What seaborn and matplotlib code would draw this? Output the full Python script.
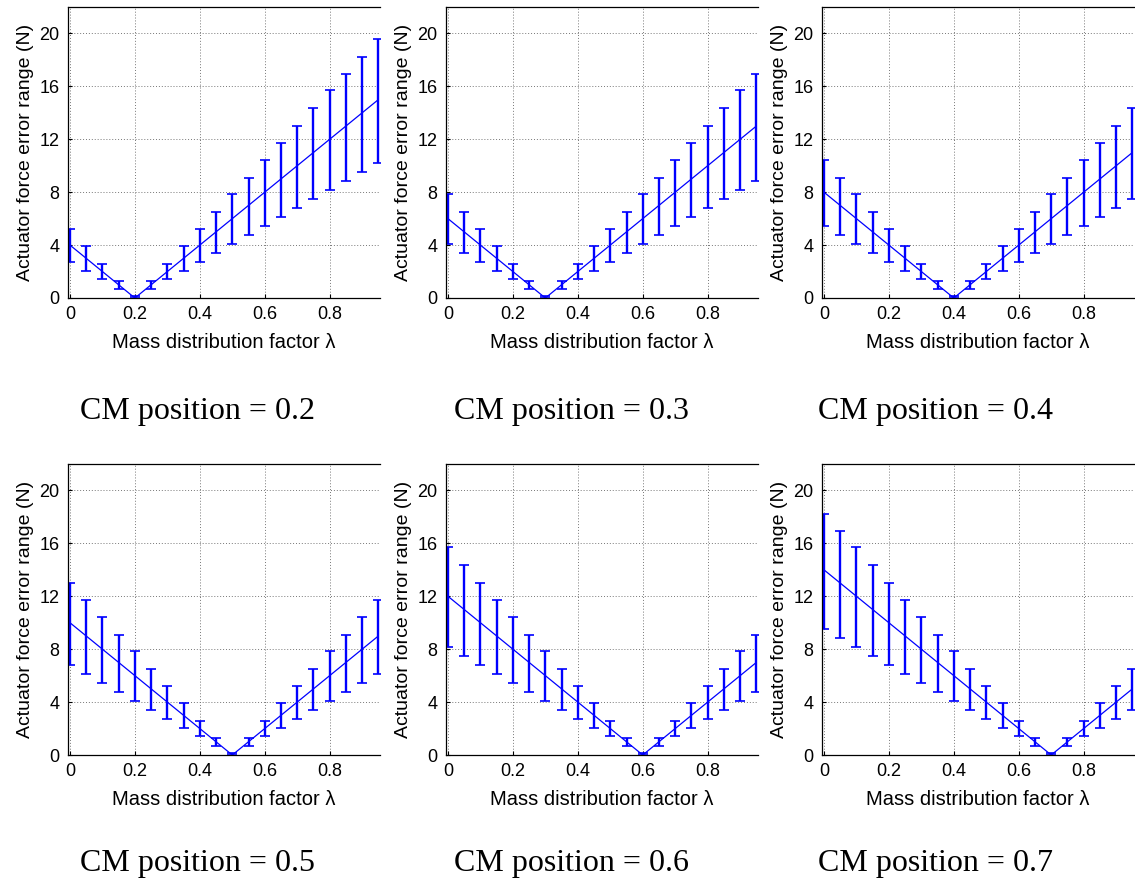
import matplotlib
matplotlib.use("Agg")
import matplotlib.pyplot as plt
import seaborn as sns
import numpy as np

# Mass distribution factor sampled in steps of 0.05
lam = [0.0, 0.05, 0.10, 0.15, 0.20, 0.25, 0.30, 0.35, 0.40, 0.45,
       0.50, 0.55, 0.60, 0.65, 0.70, 0.75, 0.80, 0.85, 0.90, 0.95]

cm_positions = [0.2, 0.3, 0.4, 0.5, 0.6, 0.7]

# Actuator force error range (N): nominal value with lower / upper bounds
force_02 = [4, 3, 2, 1, 0, 1, 2, 3, 4, 5, 6, 7, 8, 9, 10, 11, 12, 13, 14, 15]
low_02 = [2.75, 2.05, 1.4, 0.7, 0.0, 0.7, 1.4, 2.05, 2.75, 3.4, 4.1, 4.75, 5.45, 6.1, 6.8, 7.5, 8.15, 8.85, 9.5, 10.2]
high_02 = [5.25, 3.95, 2.6, 1.3, 0.15, 1.3, 2.6, 3.95, 5.25, 6.5, 7.85, 9.1, 10.45, 11.75, 13.0, 14.35, 15.7, 16.95, 18.25, 19.6]

force_03 = [6, 5, 4, 3, 2, 1, 0, 1, 2, 3, 4, 5, 6, 7, 8, 9, 10, 11, 12, 13]
low_03 = [4.1, 3.4, 2.75, 2.05, 1.4, 0.7, 0.0, 0.7, 1.4, 2.05, 2.75, 3.4, 4.1, 4.75, 5.45, 6.1, 6.8, 7.5, 8.15, 8.85]
high_03 = [7.85, 6.5, 5.25, 3.95, 2.6, 1.3, 0.15, 1.3, 2.6, 3.95, 5.25, 6.5, 7.85, 9.1, 10.45, 11.75, 13.0, 14.35, 15.7, 16.95]

force_04 = [8, 7, 6, 5, 4, 3, 2, 1, 0, 1, 2, 3, 4, 5, 6, 7, 8, 9, 10, 11]
low_04 = [5.45, 4.75, 4.1, 3.4, 2.75, 2.05, 1.4, 0.7, 0.0, 0.7, 1.4, 2.05, 2.75, 3.4, 4.1, 4.75, 5.45, 6.1, 6.8, 7.5]
high_04 = [10.45, 9.1, 7.85, 6.5, 5.25, 3.95, 2.6, 1.3, 0.15, 1.3, 2.6, 3.95, 5.25, 6.5, 7.85, 9.1, 10.45, 11.75, 13.0, 14.35]

force_05 = [10, 9, 8, 7, 6, 5, 4, 3, 2, 1, 0, 1, 2, 3, 4, 5, 6, 7, 8, 9]
low_05 = [6.8, 6.1, 5.45, 4.75, 4.1, 3.4, 2.75, 2.05, 1.4, 0.7, 0.0, 0.7, 1.4, 2.05, 2.75, 3.4, 4.1, 4.75, 5.45, 6.1]
high_05 = [13.0, 11.75, 10.45, 9.1, 7.85, 6.5, 5.25, 3.95, 2.6, 1.3, 0.15, 1.3, 2.6, 3.95, 5.25, 6.5, 7.85, 9.1, 10.45, 11.75]

force_06 = [12, 11, 10, 9, 8, 7, 6, 5, 4, 3, 2, 1, 0, 1, 2, 3, 4, 5, 6, 7]
low_06 = [8.15, 7.5, 6.8, 6.1, 5.45, 4.75, 4.1, 3.4, 2.75, 2.05, 1.4, 0.7, 0.0, 0.7, 1.4, 2.05, 2.75, 3.4, 4.1, 4.75]
high_06 = [15.7, 14.35, 13.0, 11.75, 10.45, 9.1, 7.85, 6.5, 5.25, 3.95, 2.6, 1.3, 0.15, 1.3, 2.6, 3.95, 5.25, 6.5, 7.85, 9.1]

force_07 = [14, 13, 12, 11, 10, 9, 8, 7, 6, 5, 4, 3, 2, 1, 0, 1, 2, 3, 4, 5]
low_07 = [9.5, 8.85, 8.15, 7.5, 6.8, 6.1, 5.45, 4.75, 4.1, 3.4, 2.75, 2.05, 1.4, 0.7, 0.0, 0.7, 1.4, 2.05, 2.75, 3.4]
high_07 = [18.25, 16.95, 15.7, 14.35, 13.0, 11.75, 10.45, 9.1, 7.85, 6.5, 5.25, 3.95, 2.6, 1.3, 0.15, 1.3, 2.6, 3.95, 5.25, 6.5]

x_ticks = [0, 0.2, 0.4, 0.6, 0.8]
x_tick_labels = ["0", "0.2", "0.4", "0.6", "0.8"]
y_ticks = [0, 4, 8, 12, 16, 20]

series = [
    (force_02, low_02, high_02),
    (force_03, low_03, high_03),
    (force_04, low_04, high_04),
    (force_05, low_05, high_05),
    (force_06, low_06, high_06),
    (force_07, low_07, high_07),
]

sns.set_style("ticks")
plt.rcParams["font.family"] = ["Liberation Sans", "DejaVu Sans"]
plt.rcParams["text.color"] = "black"
plt.rcParams["axes.labelcolor"] = "black"

W, H = 1135, 883
fig = plt.figure(figsize=(W / 100, H / 100), dpi=100)

col_left = [68, 446, 822]
row_bottom = [298, 755]
ax_w, ax_h = 312, 291
caption_x = [197, 571, 935]
caption_y = [411, 864]

line_color = "#0000ff"

for idx, (cm, (force, low, high)) in enumerate(zip(cm_positions, series)):
    r, c = divmod(idx, 3)
    left = col_left[c] / W
    bottom = 1 - row_bottom[r] / H
    ax = fig.add_axes([left, bottom, ax_w / W, ax_h / H])

    f = np.array(force, dtype=float)
    lo = np.array(low, dtype=float)
    hi = np.array(high, dtype=float)

    sns.lineplot(x=lam, y=force, ax=ax, color=line_color, linewidth=0.9)
    ax.errorbar(lam, f, yerr=[f - lo, hi - f], fmt="none",
                ecolor=line_color, elinewidth=1.7, capsize=3.6, capthick=1.2)

    ax.set_xlim(-0.006, 0.955)
    ax.set_ylim(0, 22)
    ax.set_xticks(x_ticks)
    ax.set_xticklabels(x_tick_labels)
    ax.set_yticks(y_ticks)
    ax.tick_params(direction="in", length=3, width=0.8, labelsize=13,
                   pad=6, colors="black")
    ax.grid(True, linestyle=(0, (1, 2)), color="#777777", linewidth=0.7)
    for side in ["left", "bottom", "top"]:
        ax.spines[side].set_color("black")
        ax.spines[side].set_linewidth(0.9)
    ax.spines["right"].set_visible(False)

    ax.set_xlabel("Mass distribution factor \u03bb", fontsize=14.5,
                  labelpad=7, color="black")
    ax.set_ylabel("Actuator force error range (N)", fontsize=14,
                  labelpad=4, color="black")

    fig.text(caption_x[c] / W, 1 - caption_y[r] / H, f"CM position = {cm}",
             ha="center", va="center", fontsize=23, color="black",
             family=["Liberation Serif", "DejaVu Serif"])

fig.savefig("out.png", dpi=100, facecolor="white")
